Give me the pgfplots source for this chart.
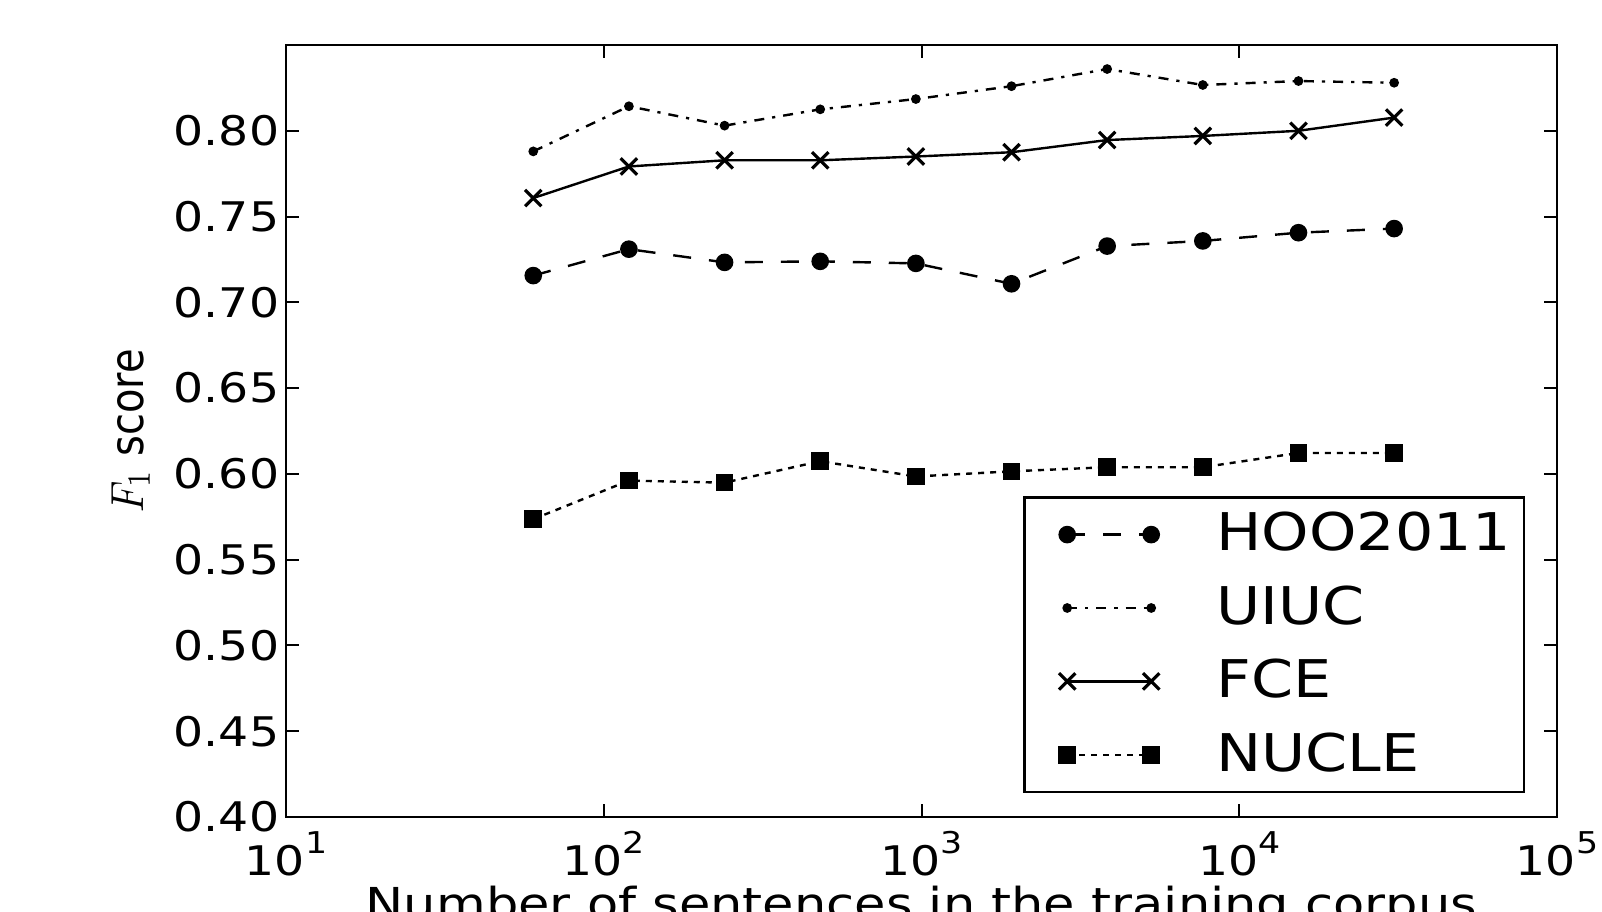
\documentclass[border=0pt]{standalone}
\usepackage{fontspec}
\setmainfont{DejaVu Sans}[FakeStretch=1.16]
\newfontfamily\ylabfont{DejaVu Sans}
\usepackage{pgfplots}
\pgfplotsset{compat=1.18}

\newcommand\expo[1]{\raisebox{5.5pt}{\fontsize{7.5}{8}\selectfont #1}}

\begin{document}
\begin{tikzpicture}
\begin{axis}[
  scale only axis, width=317.75pt, height=193pt,
  xmode=log, log basis x=10,
  xmin=10, xmax=100000, ymin=0.40, ymax=0.85,
  xtick={10,100,1000,10000,100000},
  xticklabels={10\expo{1},10\expo{2},10\expo{3},10\expo{4},10\expo{5}},
  ytick={0.40,0.45,0.50,0.55,0.60,0.65,0.70,0.75,0.80},
  /pgf/number format/fixed, /pgf/number format/fixed zerofill,
  /pgf/number format/precision=2, /pgf/number format/assume math mode=true,
  tick label style={font=\fontsize{10.2}{12}\selectfont},
  yticklabel style={inner xsep=1.5pt},
  tick align=inside, tick pos=both,
  major tick length=3.3pt, minor tick length=1.8pt,
  tick style={line width=0.5pt, black},
  axis line style={line width=0.6pt},
  xlabel={Number of sentences in the training corpus},
  xlabel style={font=\fontsize{11}{13}\selectfont, at={(axis description cs:0.5,0)}, anchor=base, yshift=-25.5pt},
  ylabel={\scalebox{1}[1.16]{\ylabfont\fontsize{10}{12}\selectfont $F_1$ score}},
  ylabel style={at={(axis description cs:-0.1125,0.5)}, anchor=base},
  legend style={at={(0.975,0.031)}, anchor=south east, draw=black, line width=0.6pt,
    font=\fontsize{13}{15}\selectfont, inner xsep=1.4pt, inner ysep=1.7pt,
    column sep=12.3pt, row sep=3.2pt},
  legend cell align=left,
  legend image code/.code={\path (-9pt,0pt); \draw plot coordinates {(0pt,0pt) (21pt,0pt)};},
]
\addplot[black, line width=0.6pt, dash pattern=on 4.5pt off 4.5pt,
  mark=*, mark size=1.9pt, mark options={solid, fill=black}]
  coordinates {(60,0.7156)(120,0.7310)(240,0.7233)(480,0.7239)(960,0.7227)
               (1920,0.7108)(3840,0.7328)(7680,0.7358)(15360,0.7406)(30720,0.7430)};
\addlegendentry{HOO2011}
\addplot[black, line width=0.6pt, dash pattern=on 2.5pt off 2pt on 0.8pt off 2pt,
  mark=*, mark size=0.9pt, mark options={solid, fill=black}]
  coordinates {(60,0.7880)(120,0.8143)(240,0.8030)(480,0.8125)(960,0.8185)
               (1920,0.8260)(3840,0.8360)(7680,0.8267)(15360,0.8290)(30720,0.8280)};
\addlegendentry{UIUC}
\addplot[black, line width=0.6pt, solid,
  mark=x, mark size=2.9pt, mark options={solid, line width=0.8pt}]
  coordinates {(60,0.7608)(120,0.7792)(240,0.7828)(480,0.7828)(960,0.7850)
               (1920,0.7875)(3840,0.7946)(7680,0.7970)(15360,0.8000)(30720,0.8077)};
\addlegendentry{FCE}
\addplot[black, line width=0.6pt, dash pattern=on 1.5pt off 1.5pt,
  mark=square*, mark size=1.9pt, mark options={solid, fill=black}]
  coordinates {(60,0.5736)(120,0.5961)(240,0.5949)(480,0.6074)(960,0.5985)
               (1920,0.6015)(3840,0.6039)(7680,0.6039)(15360,0.6122)(30720,0.6122)};
\addlegendentry{NUCLE}
\end{axis}
\pgfresetboundingbox
\path[use as bounding box] (-71.5pt,-23.5pt) rectangle (329pt,204.25pt);
\end{tikzpicture}
\end{document}
